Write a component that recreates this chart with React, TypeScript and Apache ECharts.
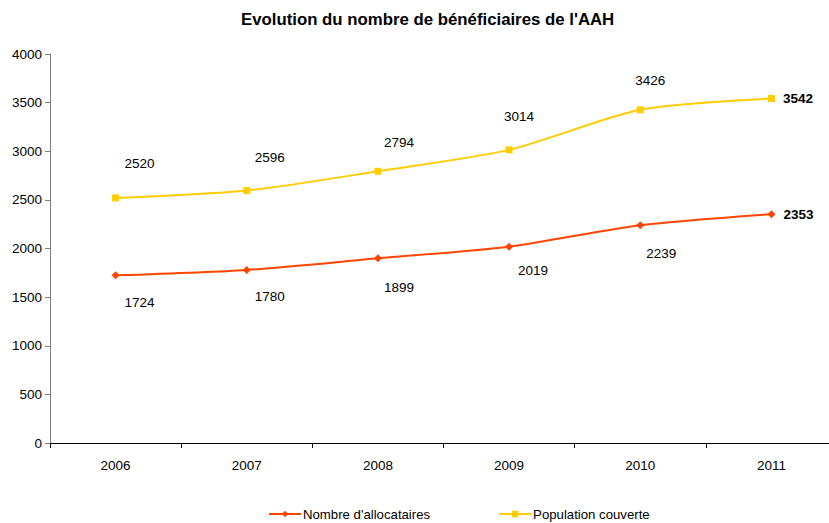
import React, { useEffect, useRef } from "react";
import * as echarts from "echarts";

const categories = ["2006", "2007", "2008", "2009", "2010", "2011"];
const allocataires = [1724, 1780, 1899, 2019, 2239, 2353];
const population = [2520, 2596, 2794, 3014, 3426, 3542];
const yTicks = { min: 0, max: 4000, interval: 500 };

// label offsets (styling only)
const popOffsets = [[24, -34], [23, -33], [21, -29], [10, -33], [10, -29]];
const allocOffsets = [[24, 27], [23, 27], [21, 29], [24, 24], [21, 28]];

export default function App() {
  const ref = useRef<HTMLDivElement>(null);
  useEffect(() => {
    document.body.style.margin = "0";
    const chart = echarts.init(ref.current!, null, { renderer: "svg" });
    const font = "Arial, 'Liberation Sans', sans-serif";
    const fs = 13.5;
    const mkData = (vals: number[], offs: number[][]) =>
      vals.map((v, i) => {
        if (i === vals.length - 1) {
          return {
            value: v,
            label: { show: true, position: "right", distance: 8, fontWeight: "bold" },
          };
        }
        return {
          value: v,
          label: { show: true, position: "inside", offset: offs[i] },
        };
      });
    chart.setOption({
      animation: false,
      backgroundColor: "#fff",
      textStyle: { fontFamily: font },
      title: {
        text: "Evolution du nombre de bénéficiaires de l'AAH",
        left: 236,
        top: 6,
        textStyle: { fontSize: 16.8, fontWeight: "bold", color: "#000", fontFamily: font },
      },
      grid: { left: 50, top: 54, width: 787, height: 389, containLabel: false },
      legend: {
        top: 507,
        left: 268,
        padding: 0,
        itemWidth: 32,
        itemHeight: 8,
        itemGap: 68,
        textStyle: { fontSize: 13.2, lineHeight: 14, color: "#000", fontFamily: font, padding: [0, 0, 0, -3] },
        data: ["Nombre d'allocataires", "Population couverte"],
      },
      xAxis: {
        type: "category",
        data: categories,
        boundaryGap: true,
        axisLine: { lineStyle: { color: "#000", width: 1 } },
        axisTick: { show: true, length: 5, lineStyle: { color: "#000" } },
        axisLabel: { color: "#000", fontSize: fs, margin: 15, fontFamily: font },
        splitLine: { show: false },
      },
      yAxis: {
        type: "value",
        min: yTicks.min,
        max: yTicks.max,
        interval: yTicks.interval,
        axisLine: { show: true, lineStyle: { color: "#808080", width: 1 } },
        axisTick: { show: true, length: 5, lineStyle: { color: "#808080" } },
        axisLabel: {
          color: "#000",
          fontSize: fs,
          margin: 8,
          fontFamily: font,
          formatter: (v: number) => String(v),
        },
        splitLine: { show: false },
      },
      series: [
        {
          name: "Nombre d'allocataires",
          type: "line",
          smooth: 0.25,
          data: mkData(allocataires, allocOffsets),
          symbol: "diamond",
          symbolSize: 8,
          lineStyle: { color: "#FF4500", width: 2 },
          itemStyle: { color: "#FF4500" },
          label: { color: "#000", fontSize: fs, fontFamily: font },
        },
        {
          name: "Population couverte",
          type: "line",
          smooth: 0.25,
          data: mkData(population, popOffsets),
          symbol: "rect",
          symbolSize: 7,
          lineStyle: { color: "#FFCC00", width: 2 },
          itemStyle: { color: "#FFCC00" },
          label: { color: "#000", fontSize: fs, fontFamily: font },
        },
      ],
    });
    return () => chart.dispose();
  }, []);
  return (
    <div style={{ width: 829, height: 523, overflow: "hidden" }}>
      <div ref={ref} style={{ width: 845, height: 523 }} />
    </div>
  );
}
